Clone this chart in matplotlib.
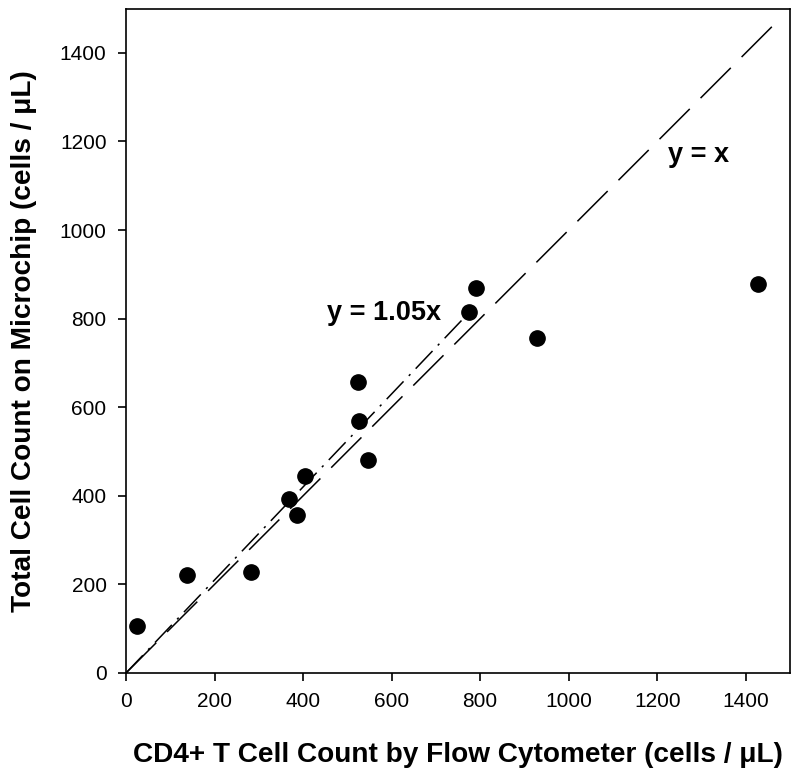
import matplotlib
matplotlib.use("Agg")
import matplotlib.pyplot as plt

plt.rcParams['font.family'] = ['Liberation Sans', 'DejaVu Sans']

# data
flow_count = [25, 138, 282, 368, 386, 404, 524, 526, 547, 775, 791, 929, 1428]
chip_count = [106, 221, 228, 392, 356, 444, 656, 568, 480, 814, 870, 757, 879]
identity_x = [0, 1478]
fit_slope = 1.05
fit_x = [0, 778]
ticks = [0, 200, 400, 600, 800, 1000, 1200, 1400]

fig = plt.figure(figsize=(8, 7.82), dpi=100)
ax = fig.add_axes([0.1575, 0.1394, 0.83, 0.8496])

ax.plot(identity_x, identity_x, color='black', lw=1.1, dashes=(28, 10))
ax.plot(fit_x, [fit_slope * v for v in fit_x], color='black', lw=1.1,
        dashes=(16, 5, 1.5, 5))
ax.plot(flow_count, chip_count, 'o', color='black', markersize=11)

ax.text(454, 813, 'y = 1.05x', fontsize=19.5, fontweight='bold', va='center')
ax.text(1225, 1170, 'y = x', fontsize=19.5, fontweight='bold', va='center')

ax.set_xlim(0, 1500)
ax.set_ylim(0, 1500)
ax.set_xticks(ticks)
ax.set_yticks(ticks)
ax.tick_params(labelsize=15, length=6, width=1.2, direction='out', pad=8)
for s in ax.spines.values():
    s.set_linewidth(1.2)

ax.set_xlabel('CD4+ T Cell Count by Flow Cytometer (cells / μL)',
              fontsize=20.2, fontweight='bold', labelpad=22)
ax.set_ylabel('Total Cell Count on Microchip (cells / μL)',
              fontsize=20.2, fontweight='bold', labelpad=16)

fig.savefig('out.png', dpi=100)
